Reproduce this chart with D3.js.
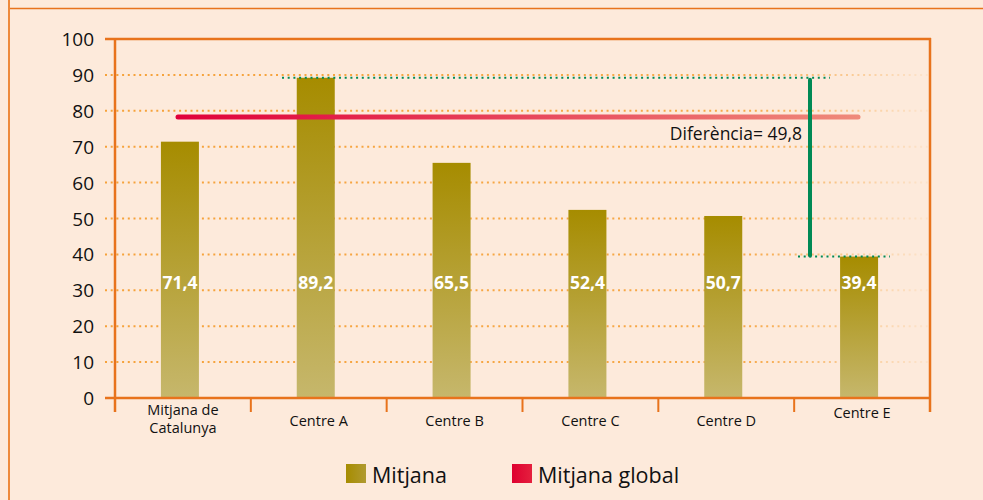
<!DOCTYPE html>
<html>
<head>
<meta charset="utf-8">
<script src="https://cdn.jsdelivr.net/npm/d3@7"></script>
<style>
  html, body { margin: 0; padding: 0; background: #fdeadb; }
  svg { display: block; }
  text { font-family: "Open Sans", "Noto Sans", sans-serif; }
</style>
</head>
<body>
<svg id="chart" width="983" height="500"></svg>
<script>
// Mitjana per centre
const categories = ["Mitjana de\nCatalunya", "Centre A", "Centre B", "Centre C", "Centre D", "Centre E"];
const values = [71.4, 89.2, 65.5, 52.4, 50.7, 39.4];
const valueLabels = ["71,4", "89,2", "65,5", "52,4", "50,7", "39,4"];
const globalMean = 78.3;
const yTicks = [0, 10, 20, 30, 40, 50, 60, 70, 80, 90, 100];
const differenceLabel = "Diferència= 49,8";
const legendItems = ["Mitjana", "Mitjana global"];

const svg = d3.select("#chart");
const orange = "#e8731c";
const gridOrange = "#f6a23a";
const green = "#008a55";

const margin = { left: 115, right: 53, top: 39, bottom: 102 };
const W = 983, H = 500;
const x0 = margin.left, x1 = W - margin.right;
const yTop = margin.top, yBot = H - margin.bottom;

const x = d3.scaleBand().domain(categories).range([x0, x1]).paddingInner(0).paddingOuter(0);
const y = d3.scaleLinear().domain([0, 100]).range([yBot, yTop]);

const defs = svg.append("defs");
const barGrad = defs.append("linearGradient").attr("id", "barGrad")
  .attr("x1", 0).attr("y1", 0).attr("x2", 0).attr("y2", 1);
barGrad.append("stop").attr("offset", "0%").attr("stop-color", "#a68c00");
barGrad.append("stop").attr("offset", "100%").attr("stop-color", "#c6b76c");

const gridGrad = defs.append("linearGradient").attr("id", "gridGrad")
  .attr("gradientUnits", "userSpaceOnUse")
  .attr("x1", x0 - 10).attr("x2", x1).attr("y1", 0).attr("y2", 0);
gridGrad.append("stop").attr("offset", "0%").attr("stop-color", gridOrange).attr("stop-opacity", 1);
gridGrad.append("stop").attr("offset", "78%").attr("stop-color", gridOrange).attr("stop-opacity", 0.9);
gridGrad.append("stop").attr("offset", "100%").attr("stop-color", gridOrange).attr("stop-opacity", 0.08);

const meanGrad = defs.append("linearGradient").attr("id", "meanGrad")
  .attr("gradientUnits", "userSpaceOnUse")
  .attr("x1", 178).attr("x2", 858).attr("y1", 0).attr("y2", 0);
meanGrad.append("stop").attr("offset", "0%").attr("stop-color", "#e0003a");
meanGrad.append("stop").attr("offset", "100%").attr("stop-color", "#ef8a7a");

const legGold = defs.append("linearGradient").attr("id", "legGold")
  .attr("x1", 0).attr("x2", 1).attr("y1", 0).attr("y2", 0);
legGold.append("stop").attr("offset", "0%").attr("stop-color", "#a68c00");
legGold.append("stop").attr("offset", "100%").attr("stop-color", "#b09a30");
const legRed = defs.append("linearGradient").attr("id", "legRed")
  .attr("x1", 0).attr("x2", 1).attr("y1", 0).attr("y2", 0);
legRed.append("stop").attr("offset", "0%").attr("stop-color", "#de0030");
legRed.append("stop").attr("offset", "100%").attr("stop-color", "#e5203e");

// outer frame
svg.append("line").attr("x1", 8.5).attr("x2", W).attr("y1", 8.5).attr("y2", 8.5)
  .attr("stroke", orange).attr("stroke-width", 1.5);
svg.append("line").attr("x1", 9).attr("x2", 9).attr("y1", 0).attr("y2", H)
  .attr("stroke", "#ee8a3c").attr("stroke-width", 2);

// dotted gridlines
svg.append("g").selectAll("line")
  .data(yTicks.filter(t => t > 0 && t < 100))
  .join("line")
  .attr("x1", x0 - 10).attr("x2", x1)
  .attr("y1", d => y(d)).attr("y2", d => y(d))
  .attr("stroke", "url(#gridGrad)")
  .attr("stroke-width", 2)
  .attr("stroke-dasharray", "2,3.7");

// y labels
svg.append("g").selectAll("text")
  .data(yTicks)
  .join("text")
  .attr("x", x0 - 21).attr("y", d => y(d) + 7)
  .attr("text-anchor", "end")
  .attr("font-size", 19)
  .attr("fill", "#111")
  .text(d => d);

// bars
const barW = 38;
const barShift = -3;
const barX = i => x(categories[i]) + x.bandwidth() / 2 + barShift;
svg.append("g").selectAll("rect")
  .data(values)
  .join("rect")
  .attr("x", (d, i) => barX(i) - barW / 2)
  .attr("y", d => y(d))
  .attr("width", barW)
  .attr("height", d => yBot - y(d))
  .attr("fill", "url(#barGrad)");

// value labels
svg.append("g").selectAll("text")
  .data(valueLabels)
  .join("text")
  .attr("x", (d, i) => barX(i))
  .attr("y", y(30) - 1)
  .attr("text-anchor", "middle")
  .attr("font-size", 17.5)
  .attr("font-weight", "bold")
  .attr("fill", "#fff")
  .text(d => d);

// axes frame
svg.append("line").attr("x1", x0 - 10).attr("x2", x1 + 1).attr("y1", yTop).attr("y2", yTop)
  .attr("stroke", orange).attr("stroke-width", 2.5);
svg.append("line").attr("x1", x0 - 10).attr("x2", x1 + 1).attr("y1", yBot).attr("y2", yBot)
  .attr("stroke", orange).attr("stroke-width", 2.5);
svg.append("line").attr("x1", x0).attr("x2", x0).attr("y1", yTop).attr("y2", yBot + 14)
  .attr("stroke", orange).attr("stroke-width", 2.5);
svg.append("line").attr("x1", x1).attr("x2", x1).attr("y1", yTop - 1).attr("y2", yBot + 14)
  .attr("stroke", orange).attr("stroke-width", 2.5);
// category separators
svg.append("g").selectAll("line")
  .data(categories.slice(1))
  .join("line")
  .attr("x1", d => x(d)).attr("x2", d => x(d))
  .attr("y1", yBot).attr("y2", yBot + 14)
  .attr("stroke", orange).attr("stroke-width", 2);

// category labels
const catG = svg.append("g");
categories.forEach((c, i) => {
  const lines = c.split("\n");
  const cx = x(c) + x.bandwidth() / 2;
  const last = i === categories.length - 1;
  const baseY = lines.length > 1 ? yBot + 17 : (last ? yBot + 20 : yBot + 28);
  lines.forEach((l, k) => catG.append("text")
    .attr("x", cx).attr("y", baseY + k * 18)
    .attr("text-anchor", "middle")
    .attr("font-size", 14.5)
    .attr("fill", "#111")
    .text(l));
});

// global mean line
svg.append("line")
  .attr("x1", 178).attr("x2", 858)
  .attr("y1", y(globalMean)).attr("y2", y(globalMean))
  .attr("stroke", "url(#meanGrad)")
  .attr("stroke-width", 5)
  .attr("stroke-linecap", "round");

// difference annotation between highest and lowest centre
const hi = values[1], lo = values[5];
const diffX = 810;
svg.append("line")
  .attr("x1", 282).attr("x2", 830)
  .attr("y1", y(hi)).attr("y2", y(hi))
  .attr("stroke", green).attr("stroke-width", 2)
  .attr("stroke-dasharray", "2,3.7");
svg.append("line")
  .attr("x1", 798).attr("x2", 890)
  .attr("y1", y(lo)).attr("y2", y(lo))
  .attr("stroke", green).attr("stroke-width", 2)
  .attr("stroke-dasharray", "2,3.7");
svg.append("line")
  .attr("x1", diffX).attr("x2", diffX)
  .attr("y1", y(hi) + 2).attr("y2", y(lo) - 1)
  .attr("stroke", green).attr("stroke-width", 4)
  .attr("stroke-linecap", "round");
svg.append("text")
  .attr("x", 802).attr("y", 140)
  .attr("text-anchor", "end")
  .attr("font-size", 17.5)
  .attr("fill", "#111")
  .text(differenceLabel);

// legend
const legend = svg.append("g");
const legX = [346, 512];
const fills = ["url(#legGold)", "url(#legRed)"];
legendItems.forEach((name, i) => {
  legend.append("rect")
    .attr("x", legX[i]).attr("y", 464)
    .attr("width", 20).attr("height", 19)
    .attr("fill", fills[i]);
  legend.append("text")
    .attr("x", legX[i] + 26).attr("y", 483)
    .attr("font-size", 21.5)
    .attr("fill", "#111")
    .text(name);
});
</script>
</body>
</html>
